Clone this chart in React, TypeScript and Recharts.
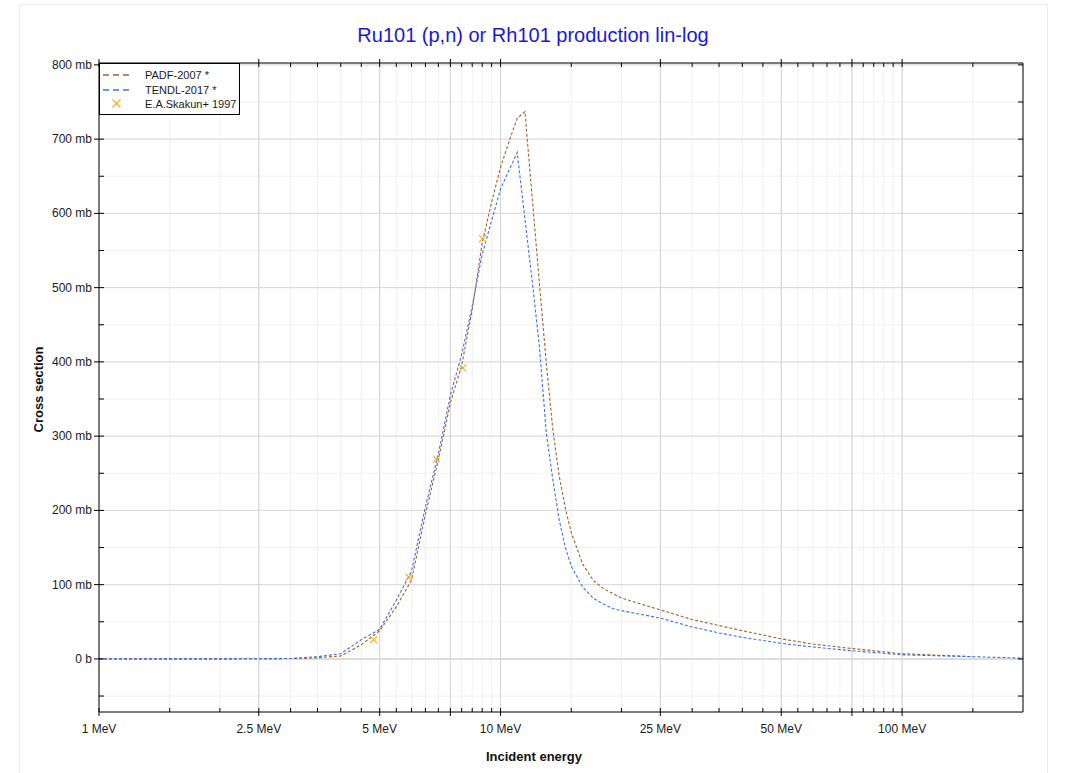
import React from 'react';
import {
  ComposedChart, Line, Scatter, XAxis, YAxis, CartesianGrid, ReferenceLine,
} from 'recharts';

// PADF-2007 evaluation (MeV, mb)
const PADF_E = [1, 2, 3, 3.5, 4, 4.5, 5, 5.5, 6, 6.5, 7, 7.5, 8, 8.5, 9, 9.5, 10, 10.5, 11, 11.5, 12.5, 13, 13.5, 14, 14.5, 15, 16, 17, 18, 20, 22, 25, 30, 35, 40, 50, 60, 75, 100, 150];
const PADF_S = [0, 0, 0.5, 1.5, 4, 19, 38, 70, 106, 195, 268, 345, 395, 470, 560, 615, 662, 697, 728, 737, 505, 398, 308, 246, 203, 170, 128, 106, 95, 82, 75, 66, 53, 45, 38, 27, 20, 14, 7, 3];

// TENDL-2017 evaluation
const TENDL_E = [1, 2, 3, 3.5, 4, 4.5, 5, 5.5, 6, 6.5, 7, 7.5, 8, 8.5, 9, 9.5, 10, 11, 12, 12.5, 13, 13.5, 14, 14.5, 15, 16, 17, 18, 19, 20, 25, 30, 35, 40, 50, 60, 75, 100, 150, 200];
const TENDL_S = [0, 0, 0.5, 3, 7, 26, 40, 79, 118, 205, 276, 355, 410, 475, 545, 590, 633, 682, 507, 420, 304, 241, 187, 150, 125, 97, 82, 74, 68, 65, 55, 43, 35, 29, 21, 16, 11, 5.5, 3, 1];

// E.A.Skakun+ 1997 measurement
const EXP_E = [4.83, 5.91, 6.92, 8.05, 9.02];
const EXP_S = [26, 110, 269, 392, 566];

// axis ticks
const X_TICKS = [1, 1.5, 2, 2.5, 3, 3.5, 4, 4.5, 5, 5.5, 6, 6.5, 7, 7.5, 8, 8.5, 9, 9.5, 10, 15, 20, 25, 30, 35, 40, 45, 50, 55, 60, 65, 70, 75, 80, 85, 90, 95, 100, 150];
const X_MAJOR = [1, 2.5, 5, 7.5, 10, 25, 50, 75, 100];
const X_LABELED = [1, 2.5, 5, 10, 25, 50, 100];
const Y_TICKS = [-50, 0, 50, 100, 150, 200, 250, 300, 350, 400, 450, 500, 550, 600, 650, 700, 750, 800];
const Y_MAJOR = [0, 100, 200, 300, 400, 500, 600, 700, 800];

const padf = PADF_E.map((e, i) => ({ e, s: PADF_S[i] }));
const tendl = TENDL_E.map((e, i) => ({ e, s: TENDL_S[i] }));
const exp = EXP_E.map((e, i) => ({ e, s: EXP_S[i] }));

const FONT = '"Liberation Sans", Arial, sans-serif';
const BROWN = '#a0622d';
const BLUE = '#3d6fe6';
const ORANGE = '#ffa51f';

const XTick = (props: any) => {
  const { x, y, payload, side } = props;
  const v = payload.value;
  const out = side === 'bottom' ? 1 : -1;
  const major = X_MAJOR.includes(v);
  return (
    <g>
      <line x1={x} x2={x} y1={y - out * 4} y2={major ? y + out * 4 : y} stroke="#000" />
      {side === 'bottom' && X_LABELED.includes(v) && (
        <text x={x} y={y + 21} textAnchor="middle" fontSize={12} fontFamily={FONT} fill="#1a1a1a">
          {v} MeV
        </text>
      )}
    </g>
  );
};

const YTick = (props: any) => {
  const { x, y, payload, side } = props;
  const v = payload.value;
  const out = side === 'left' ? -1 : 1;
  const major = Y_MAJOR.includes(v);
  return (
    <g>
      <line x1={x - out * 5} x2={major && side === 'left' ? x + out * 5 : x} y1={y} y2={y} stroke="#000" />
      {side === 'left' && major && (
        <text x={x - 7} y={y} dy={4} textAnchor="end" fontSize={12} fontFamily={FONT} fill="#1a1a1a">
          {v === 0 ? '0 b' : `${v} mb`}
        </text>
      )}
    </g>
  );
};

const XCross = (props: any) => {
  const { cx, cy } = props;
  if (cx == null || cy == null) return null;
  const r = 3.5;
  return (
    <g>
      <line x1={cx - r} y1={cy - r} x2={cx + r} y2={cy + r} stroke={ORANGE} strokeWidth={1.1} />
      <line x1={cx - r} y1={cy + r} x2={cx + r} y2={cy - r} stroke={ORANGE} strokeWidth={1.1} />
    </g>
  );
};

const LegendBox = () => (
  <svg style={{ position: 'absolute', left: 99, top: 63 }} width={141} height={52}>
    <rect x={0.5} y={0.5} width={140} height={51} fill="#fff" stroke="#000" />
    <line x1={4} x2={31} y1={12} y2={12} stroke={BROWN} strokeWidth={1.5} strokeDasharray="6 4" />
    <line x1={4} x2={31} y1={27} y2={27} stroke={BLUE} strokeWidth={1.5} strokeDasharray="6 4" />
    <line x1={13.5} y1={36.5} x2={21.5} y2={44.5} stroke={ORANGE} strokeWidth={1.1} />
    <line x1={13.5} y1={44.5} x2={21.5} y2={36.5} stroke={ORANGE} strokeWidth={1.1} />
    <g fontFamily={FONT} fontSize={11} fill="#1a1a1a">
      <text x={46} y={16}>PADF-2007 *</text>
      <text x={46} y={31}>TENDL-2017 *</text>
      <text x={46} y={45}>E.A.Skakun+ 1997</text>
    </g>
  </svg>
);

export default function App() {
  return (
    <div style={{ position: 'absolute', left: 0, top: 0, width: 1071, height: 773, overflow: 'hidden', background: '#fff', fontFamily: FONT }}>
      <div style={{ position: 'absolute', left: 19, top: 4, width: 1027, height: 800, border: '1px solid #ebebeb' }} />
      <div style={{ position: 'absolute', left: 0, width: 1066, top: 24, textAlign: 'center', fontSize: 20, lineHeight: '22px', color: '#1a1ad0' }}>
        Ru101 (p,n) or Rh101 production lin-log
      </div>
      <div style={{ position: 'absolute', left: 0, width: 1068, top: 749, textAlign: 'center', fontSize: 13, fontWeight: 'bold', color: '#111' }}>
        Incident energy
      </div>
      <div style={{ position: 'absolute', left: 38, top: 390, width: 0, height: 0 }}>
        <div style={{ position: 'absolute', left: -60, top: -8, width: 120, textAlign: 'center', fontSize: 13, fontWeight: 'bold', color: '#111', transform: 'rotate(-90deg)' }}>
          Cross section
        </div>
      </div>
      <div style={{ position: 'absolute', left: 0, top: 0 }}>
        <ComposedChart width={1071} height={773} margin={{ top: 53, right: 38, bottom: 31, left: 39 }}>
          <CartesianGrid stroke="#f0f0f0" />
          {X_MAJOR.slice(1).map((v) => (
            <ReferenceLine key={'x' + v} x={v} stroke="#d2d2d2" />
          ))}
          {Y_MAJOR.slice(1).map((v) => (
            <ReferenceLine key={'y' + v} y={v} stroke="#d9d9d9" />
          ))}
          <ReferenceLine y={0} stroke="#dcdcdc" strokeWidth={2} />
          <XAxis
            dataKey="e" type="number" scale="log" domain={[1, 200]} allowDataOverflow
            ticks={X_TICKS} interval={0} height={30} tickSize={0} tickMargin={0} tickLine={false}
            axisLine={{ stroke: '#000' }} tick={(p: any) => <XTick {...p} side="bottom" />}
          />
          <XAxis
            xAxisId="top" orientation="top" dataKey="e" type="number" scale="log" domain={[1, 200]} allowDataOverflow
            ticks={X_TICKS} interval={0} height={10} tickSize={0} tickMargin={0} tickLine={false}
            axisLine={{ stroke: '#000' }} tick={(p: any) => <XTick {...p} side="top" />}
          />
          <YAxis
            dataKey="s" type="number" domain={[-71.5, 802.5]} allowDataOverflow
            ticks={Y_TICKS} interval={0} width={60} tickSize={0} tickMargin={0} tickLine={false}
            axisLine={{ stroke: '#000' }} tick={(p: any) => <YTick {...p} side="left" />}
          />
          <YAxis
            yAxisId="right" orientation="right" dataKey="s" type="number" domain={[-71.5, 802.5]} allowDataOverflow
            ticks={Y_TICKS} interval={0} width={10} tickSize={0} tickMargin={0} tickLine={false}
            axisLine={{ stroke: '#000' }} tick={(p: any) => <YTick {...p} side="right" />}
          />
          <Line data={padf} dataKey="s" type="linear" stroke={BROWN} strokeWidth={1.1} strokeDasharray="3 2" dot={false} isAnimationActive={false} />
          <Line data={tendl} dataKey="s" type="linear" stroke={BLUE} strokeWidth={1.1} strokeDasharray="3 2" dot={false} isAnimationActive={false} />
          <Scatter data={exp} dataKey="s" shape={<XCross />} isAnimationActive={false} />
        </ComposedChart>
      </div>
      <LegendBox />
    </div>
  );
}
